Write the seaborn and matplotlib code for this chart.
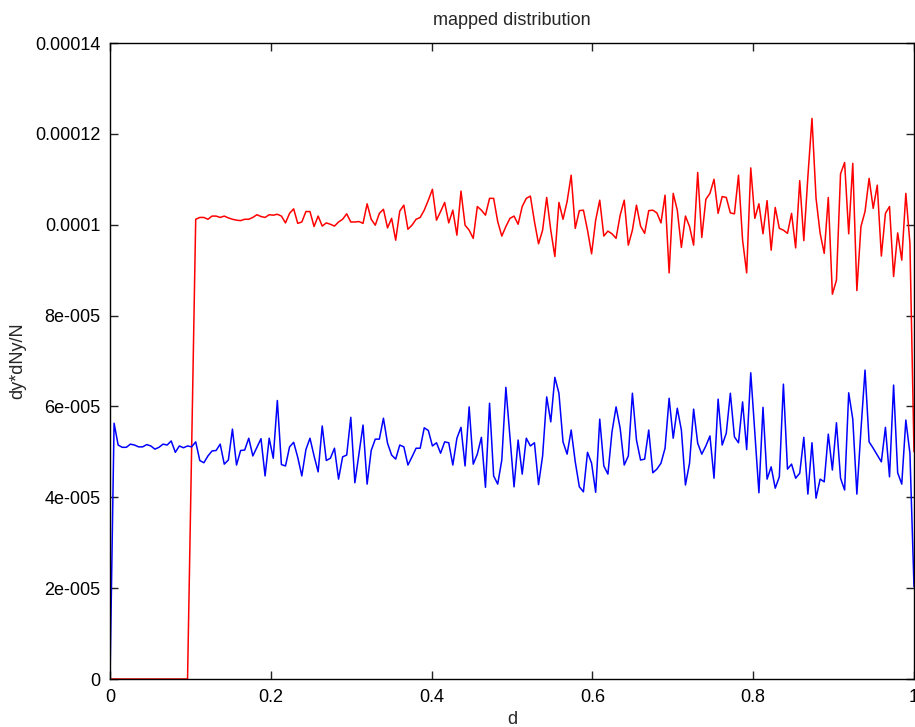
import numpy as np
import pandas as pd
import matplotlib
matplotlib.use("Agg")
import matplotlib.pyplot as plt
import seaborn as sns

# ---- data (values in units of the y axis) ----
red_vals = [0, 0, 0, 0, 0, 0, 0, 0, 0, 0, 0, 0, 0, 0, 0, 0, 0, 0, 0, 0,
            5.05e-5,
            10.12e-5, 10.16e-5, 10.16e-5, 10.12e-5, 10.19e-5, 10.19e-5, 10.16e-5, 10.19e-5, 10.15e-5, 10.12e-5,
            10.10e-5, 10.09e-5, 10.12e-5, 10.12e-5, 10.16e-5, 10.22e-5, 10.18e-5, 10.16e-5, 10.22e-5,
            10.21e-5, 10.23e-5, 10.19e-5, 10.04e-5, 10.25e-5, 10.35e-5, 10.03e-5, 10.06e-5, 10.29e-5, 10.29e-5,
            9.96e-5, 10.19e-5, 9.97e-5, 10.04e-5, 10.01e-5, 9.97e-5, 10.06e-5, 10.12e-5, 10.24e-5, 10.06e-5,
            10.06e-5, 10.07e-5, 10.03e-5, 10.46e-5, 10.12e-5, 9.99e-5, 10.25e-5, 10.34e-5, 9.93e-5, 10.14e-5,
            9.66e-5, 10.30e-5, 10.43e-5,
            9.90e-5, 9.99e-5, 10.12e-5, 10.16e-5, 10.32e-5, 10.54e-5, 10.78e-5, 10.10e-5, 10.29e-5, 10.49e-5,
            10.04e-5, 10.32e-5, 9.77e-5, 10.74e-5, 9.99e-5, 9.88e-5, 9.70e-5, 10.40e-5, 10.32e-5, 10.21e-5,
            10.58e-5, 10.58e-5, 10.07e-5, 9.75e-5, 9.96e-5, 10.14e-5, 10.19e-5, 10.01e-5, 10.40e-5, 10.58e-5,
            10.63e-5, 10.07e-5, 9.58e-5, 9.88e-5, 10.60e-5, 9.88e-5, 9.30e-5, 10.49e-5, 10.12e-5, 10.51e-5,
            11.09e-5, 9.92e-5, 10.31e-5, 10.32e-5, 9.88e-5, 9.36e-5, 10.10e-5, 10.54e-5, 9.75e-5, 9.86e-5,
            9.80e-5, 9.70e-5, 10.21e-5, 10.54e-5, 9.55e-5, 9.88e-5, 10.43e-5, 9.97e-5, 9.81e-5, 10.31e-5,
            10.32e-5, 10.26e-5, 10.04e-5, 10.65e-5, 8.94e-5, 10.69e-5, 10.32e-5, 9.50e-5, 10.19e-5, 9.96e-5,
            9.55e-5, 11.15e-5, 9.72e-5,
            10.56e-5, 10.69e-5, 11.00e-5, 10.25e-5, 10.62e-5, 10.60e-5, 10.26e-5, 10.24e-5, 11.09e-5, 9.66e-5,
            8.94e-5, 11.25e-5, 10.14e-5, 10.46e-5, 9.80e-5, 10.53e-5, 9.44e-5, 10.38e-5, 9.92e-5, 9.88e-5,
            9.81e-5, 10.25e-5, 9.49e-5, 10.97e-5, 9.65e-5, 11.06e-5, 12.34e-5, 10.58e-5, 9.81e-5, 9.37e-5,
            10.60e-5, 8.47e-5, 8.78e-5, 11.12e-5, 11.37e-5, 9.80e-5, 11.35e-5, 8.55e-5, 9.96e-5, 10.29e-5,
            11.02e-5, 10.36e-5, 10.87e-5, 9.31e-5, 10.25e-5, 10.40e-5, 8.86e-5, 9.82e-5, 9.22e-5, 10.69e-5,
            9.59e-5, 5.00e-5]

blue_vals = [0, 5.63e-5, 5.15e-5, 5.10e-5, 5.10e-5, 5.17e-5, 5.15e-5, 5.11e-5, 5.11e-5, 5.16e-5,
             5.13e-5, 5.06e-5, 5.10e-5, 5.17e-5, 5.15e-5, 5.24e-5, 4.99e-5, 5.13e-5, 5.09e-5, 5.13e-5,
             5.11e-5, 5.22e-5, 4.81e-5, 4.76e-5, 4.91e-5, 5.02e-5, 5.03e-5, 5.17e-5, 4.73e-5, 4.82e-5,
             5.50e-5, 4.71e-5, 5.03e-5, 5.04e-5, 5.30e-5, 4.91e-5, 5.10e-5, 5.29e-5, 4.47e-5, 5.30e-5,
             4.86e-5, 6.13e-5, 4.72e-5, 4.69e-5, 5.11e-5, 5.21e-5, 4.88e-5, 4.47e-5, 5.05e-5, 5.30e-5,
             4.91e-5, 4.56e-5, 5.57e-5, 4.81e-5, 4.86e-5, 5.08e-5, 4.40e-5, 4.89e-5, 4.93e-5, 5.76e-5,
             4.32e-5, 4.95e-5, 5.59e-5, 4.29e-5, 5.03e-5, 5.28e-5, 5.28e-5, 5.74e-5, 5.19e-5, 4.93e-5,
             4.84e-5, 5.15e-5, 5.11e-5,
             4.71e-5, 4.89e-5, 5.08e-5, 5.08e-5, 5.53e-5, 5.47e-5, 5.13e-5, 5.20e-5, 4.97e-5, 5.22e-5,
             5.20e-5, 4.71e-5, 5.30e-5, 5.54e-5, 4.69e-5, 5.99e-5, 4.73e-5, 4.95e-5, 5.32e-5, 4.22e-5,
             6.07e-5, 4.47e-5, 4.29e-5, 4.82e-5, 6.42e-5, 5.33e-5, 4.23e-5, 5.26e-5, 4.51e-5, 5.30e-5,
             5.13e-5, 5.20e-5, 4.28e-5, 4.91e-5, 6.21e-5, 5.66e-5, 6.64e-5, 6.29e-5, 5.22e-5, 4.95e-5,
             5.48e-5, 4.78e-5, 4.23e-5, 4.12e-5, 4.99e-5, 4.75e-5, 4.11e-5, 5.72e-5, 4.69e-5, 4.51e-5,
             5.44e-5, 5.99e-5, 5.52e-5, 4.71e-5, 4.91e-5, 6.29e-5, 5.26e-5, 4.82e-5, 4.84e-5, 5.48e-5,
             4.54e-5, 4.62e-5, 4.75e-5, 5.08e-5, 6.18e-5, 5.30e-5, 5.96e-5, 5.48e-5, 4.27e-5, 4.75e-5,
             5.94e-5, 5.19e-5, 4.95e-5,
             5.13e-5, 5.35e-5, 4.42e-5, 6.16e-5, 5.15e-5, 5.41e-5, 6.29e-5, 5.33e-5, 5.20e-5, 6.10e-5,
             5.05e-5, 6.74e-5, 5.41e-5, 4.10e-5, 5.98e-5, 4.40e-5, 4.67e-5, 4.20e-5, 4.45e-5, 6.49e-5,
             4.62e-5, 4.73e-5, 4.42e-5, 4.53e-5, 5.32e-5, 4.07e-5, 5.20e-5, 3.98e-5, 4.40e-5, 4.34e-5,
             5.39e-5, 4.60e-5, 5.64e-5, 4.42e-5, 4.16e-5, 6.30e-5, 5.72e-5, 4.07e-5, 5.48e-5, 6.80e-5,
             5.22e-5, 5.08e-5, 4.93e-5, 4.78e-5, 5.54e-5, 4.45e-5, 6.47e-5, 4.54e-5, 4.29e-5, 5.70e-5,
             4.97e-5,
             2.03e-5]

d_vals = np.linspace(0.0, 1.0, len(blue_vals))

x_ticks = [0, 0.2, 0.4, 0.6, 0.8, 1]
x_tick_labels = ["0", "0.2", "0.4", "0.6", "0.8", "1"]
y_ticks = [0, 2e-5, 4e-5, 6e-5, 8e-5, 1e-4, 1.2e-4, 1.4e-4]
y_tick_labels = ["0", "2e-005", "4e-005", "6e-005", "8e-005", "0.0001", "0.00012", "0.00014"]

title_text = "mapped distribution"
x_label = "d"
y_label = "dy*dNy/N"

# ---- style ----
sns.set_style("ticks")
plt.rcParams["font.family"] = ["Liberation Sans", "DejaVu Sans"]
plt.rcParams["xtick.direction"] = "in"
plt.rcParams["ytick.direction"] = "in"
plt.rcParams["xtick.top"] = True
plt.rcParams["ytick.right"] = True

fig = plt.figure(figsize=(9.15, 7.27), dpi=100)
W, H = 915.0, 727.0
ax = fig.add_axes([110 / W, (H - 679) / H, 804 / W, 636 / H])

df = pd.DataFrame({"d": d_vals, "red": red_vals, "blue": blue_vals})
sns.lineplot(data=df, x="d", y="red", color="#ff0000", linewidth=1.1, ax=ax)
sns.lineplot(data=df, x="d", y="blue", color="#0000ff", linewidth=1.1, ax=ax)

ax.set_xlim(0, 1)
ax.set_ylim(0, 1.4e-4)
ax.set_xticks(x_ticks)
ax.set_xticklabels(x_tick_labels)
ax.set_yticks(y_ticks)
ax.set_yticklabels(y_tick_labels)
ax.tick_params(axis="both", which="major", length=6, width=1.0, color="#222222",
               labelsize=13, pad=7, labelcolor="black")

for s in ax.spines.values():
    s.set_color("black")
    s.set_linewidth(1.0)

ax.set_title(title_text, fontsize=13, pad=13)
ax.set_xlabel(x_label, fontsize=13, labelpad=4)
ax.set_ylabel(y_label, fontsize=13, labelpad=6)

fig.savefig("out.png", dpi=100)
